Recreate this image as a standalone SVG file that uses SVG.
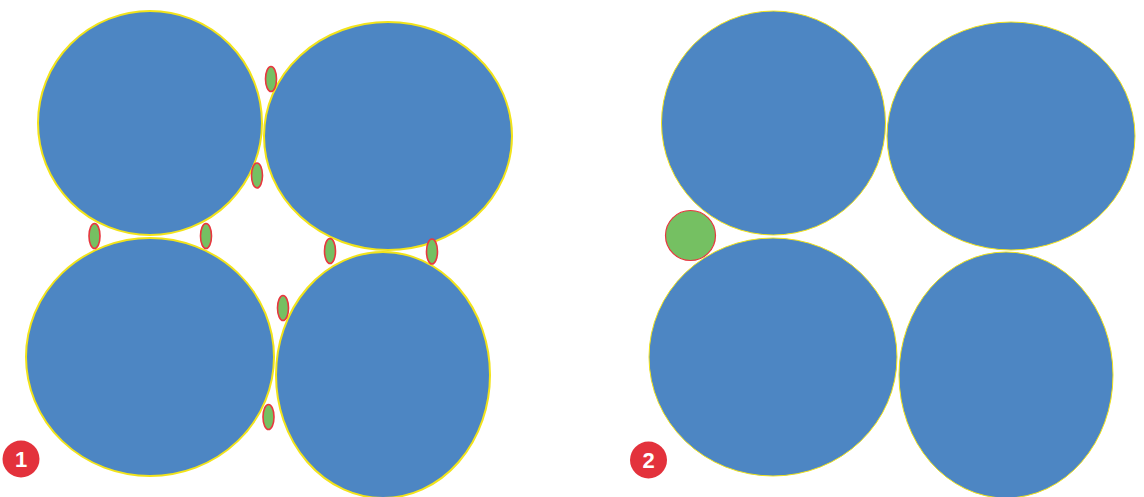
<svg xmlns="http://www.w3.org/2000/svg" width="1144" height="497" viewBox="0 0 1144 497">
<style>
.big1{fill:#4d86c3;stroke:#f2e31a;stroke-width:2}
.big2{fill:#4d86c3;stroke:#f2e31a;stroke-width:1}
.small{fill:#75c062;stroke:#e8373f;stroke-width:1.6}
.badge{fill:#e3323c}
.num{fill:#fff;font-family:"Liberation Sans",Arial,sans-serif;font-weight:bold;font-size:22px;text-anchor:middle}
</style>
<rect width="1144" height="497" fill="#fff"/>
<g id="panel1">
<ellipse id="p1-tl" class="big1" cx="150" cy="123" rx="112" ry="112"/>
<ellipse id="p1-tr" class="big1" cx="388" cy="136" rx="124" ry="114"/>
<ellipse id="p1-bl" class="big1" cx="150" cy="357" rx="124" ry="119"/>
<ellipse id="p1-br" class="big1" cx="383" cy="375" rx="107" ry="123"/>
<ellipse id="p1-s1" class="small" cx="271" cy="79" rx="5.5" ry="12.5"/>
<ellipse id="p1-s2" class="small" cx="257" cy="175.5" rx="5.5" ry="12.5"/>
<ellipse id="p1-s3" class="small" cx="94.5" cy="236" rx="5.5" ry="12.5"/>
<ellipse id="p1-s4" class="small" cx="206" cy="236" rx="5.5" ry="12.5"/>
<ellipse id="p1-s5" class="small" cx="330" cy="251" rx="5.5" ry="12.5"/>
<ellipse id="p1-s6" class="small" cx="432" cy="251.5" rx="5.5" ry="12.5"/>
<ellipse id="p1-s7" class="small" cx="283" cy="308" rx="5.5" ry="12.5"/>
<ellipse id="p1-s8" class="small" cx="268.5" cy="417" rx="5.5" ry="12.5"/>
</g>
<g id="badge1">
<circle class="badge" cx="21" cy="459" r="18.5"/>
<text class="num" x="21" y="467">1</text>
</g>
<g id="panel2">
<ellipse id="p2-tl" class="big2" cx="773.5" cy="123" rx="112" ry="112"/>
<ellipse id="p2-tr" class="big2" cx="1011" cy="136" rx="124" ry="114"/>
<ellipse id="p2-bl" class="big2" cx="773" cy="357" rx="124" ry="119"/>
<ellipse id="p2-br" class="big2" cx="1006" cy="375" rx="107" ry="123"/>
<circle id="p2-c" class="small" style="stroke-width:1.2" cx="690.5" cy="235.5" r="25"/>
</g>
<g id="badge2">
<circle class="badge" cx="648.5" cy="460" r="18.5"/>
<text class="num" x="648.5" y="468">2</text>
</g>
<g id="connectors"/>
</svg>
